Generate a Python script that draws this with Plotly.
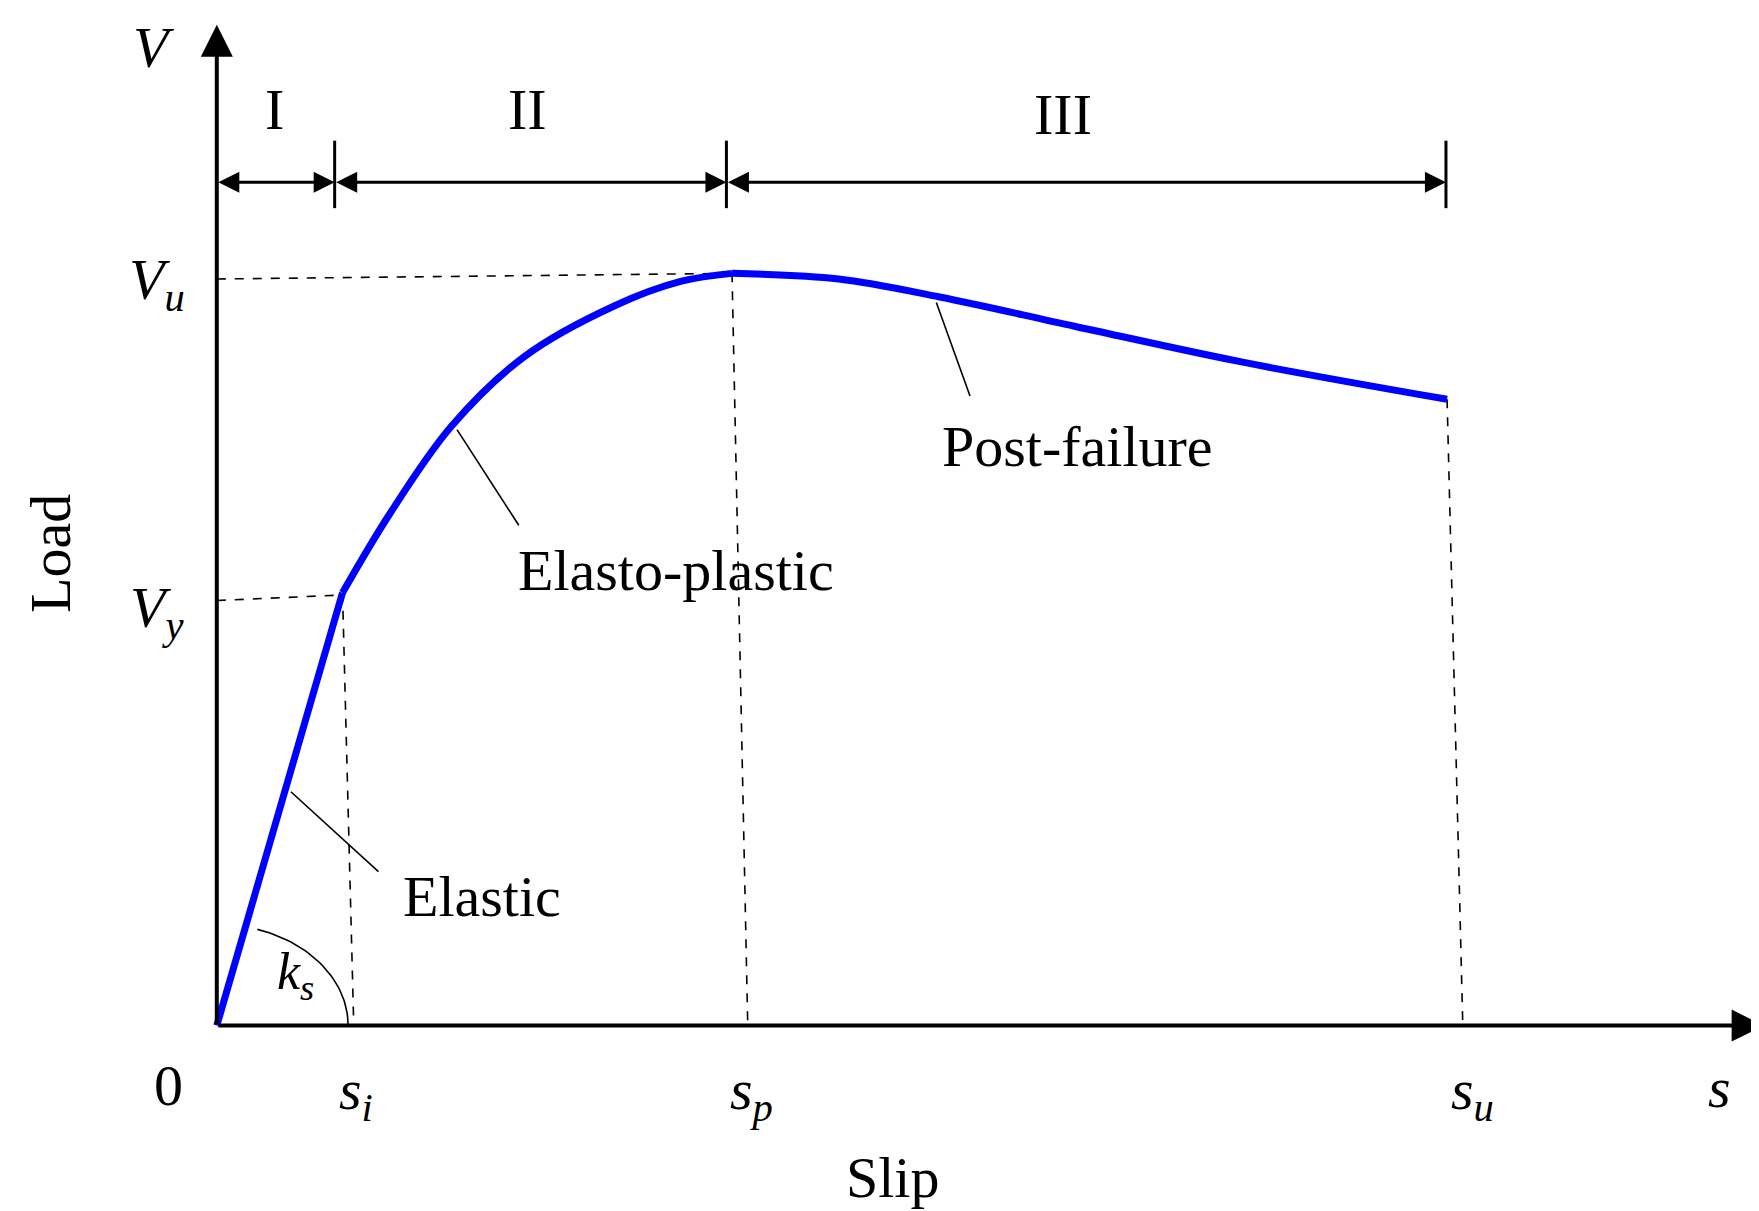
import numpy as np
import plotly.graph_objects as go

# data units: slip (s) and load (V), arbitrary schematic units
elastic_s = [0, 112]
elastic_v = [0, 385]
ep_s = [112, 154, 209, 274, 354, 414, 459]
ep_v = [385, 455, 533, 595, 640, 662, 669]
pf_s = [459, 554, 644, 764, 914, 1096]
pf_v = [669, 664, 648, 622, 590, 557]

S_I, S_P, S_U = 112, 459, 1096
V_Y, V_U = 385, 669

FONT = "Liberation Serif, Times New Roman, serif"
BLUE = "#0000ff"
fig = go.Figure()

def line(x, y, dash="solid", w=1.6, color="black", shape="linear"):
    fig.add_trace(go.Scatter(x=x, y=y, mode="lines", hoverinfo="skip",
                             line=dict(color=color, width=w, dash=dash, shape=shape), showlegend=False))

# dashed guides
line([0, S_P], [664, V_U], "dash")
line([0, S_I], [378, V_Y - 2], "dash")
line([S_I, 122], [V_Y, 0], "dash")
line([S_P, 473], [V_U, 0], "dash")
line([S_U, 1110], [pf_v[-1], 0], "dash")

# curve
line(elastic_s, elastic_v, w=7, color=BLUE)
line(ep_s, ep_v, w=7, color=BLUE, shape="spline")
line(pf_s, pf_v, w=7, color=BLUE, shape="spline")

# leaders
line([66, 144], [208, 137])
line([214, 269], [530, 445])
line([641, 671], [643, 560])

# k_s arc
th = np.linspace(0, np.deg2rad(72), 40)
line(list(117 * np.cos(th)), list(90 * np.sin(th)), w=1.6)

def arrow(x0, y0, x1, y1, side="end", w=4, size=1.3, head=2):
    fig.add_annotation(x=x1, y=y1, ax=x0, ay=y0, xref="x", yref="y", axref="x", ayref="y",
                       showarrow=True, arrowhead=head, startarrowhead=head, arrowside=side,
                       arrowwidth=w, arrowsize=size, startarrowsize=size, text="",
                       arrowcolor="black")

# axes
arrow(0, 0, 1378, 0, w=4, size=1.6)
arrow(0, 0, 0, 890, w=4, size=1.6)
# phase arrows
for a, b in [(0, 105), (105, 454), (454, 1095)]:
    arrow(a, 750, b, 750, side="end+start", w=3, size=1.4)
for xt in [105, 454, 1095]:
    line([xt, xt], [727, 787], w=3)

def txt(x, y, t, size=58, angle=0):
    fig.add_annotation(x=x, y=y, xref="x", yref="y", text=t, showarrow=False, textangle=angle,
                       font=dict(family=FONT, size=size, color="black"))

txt(51, 815, "I"); txt(277, 815, "II"); txt(754, 810, "III")
txt(236, 115, "Elastic"); txt(409, 405, "Elasto-plastic"); txt(767, 515, "Post-failure")
txt(70, 45, "<i>k</i><sub><i>s</i></sub>", 52)
txt(-43, -53, "0"); txt(124, -60, "<i>s</i><sub><i>i</i></sub>"); txt(476, -60, "<i>s</i><sub><i>p</i></sub>")
txt(1119, -60, "<i>s</i><sub><i>u</i></sub>"); txt(1339, -55, "<i>s</i>")
txt(-56, 870, "<i>V</i>"); txt(-53, 660, "<i>V</i><sub><i>u</i></sub>"); txt(-53, 368, "<i>V</i><sub><i>y</i></sub>")
txt(602, -135, "Slip"); txt(-148, 420, "Load", angle=-90)

fig.update_layout(width=1759, height=1211, margin=dict(l=0, r=0, t=0, b=0),
                  plot_bgcolor="white", paper_bgcolor="white",
                  xaxis=dict(range=[-186, 1381], visible=False),
                  yaxis=dict(range=[-172, 905], visible=False))
fig.write_html("out.html")
